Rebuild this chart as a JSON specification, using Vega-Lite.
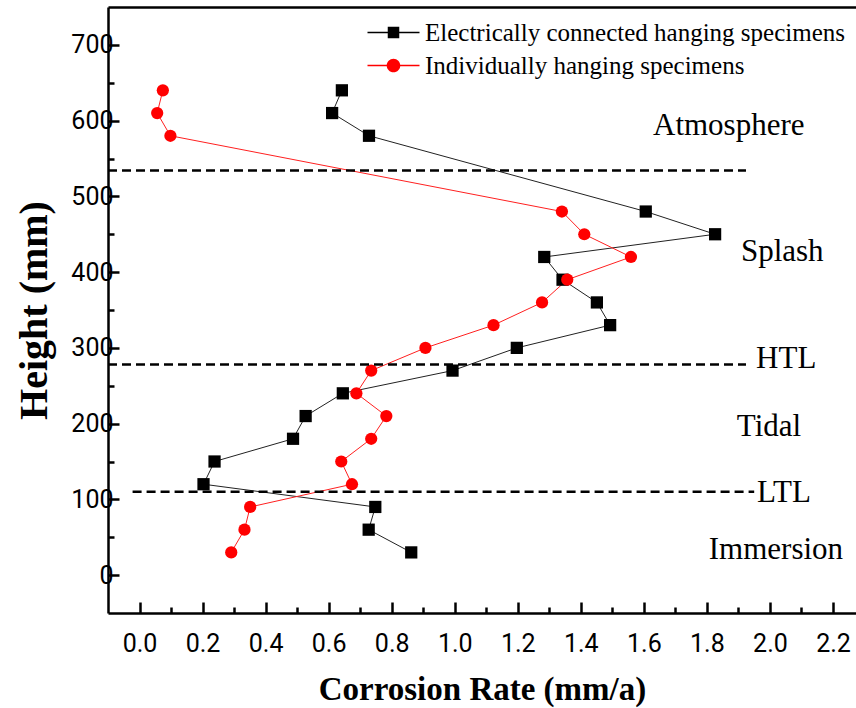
{
  "$schema": "https://vega.github.io/schema/vega-lite/v6.json",
  "width": 748,
  "height": 606,
  "autosize": {"type": "none"},
  "padding": {"left": 108, "top": 7, "right": 0, "bottom": 95},
  "background": "white",
  "config": {
    "view": {"stroke": null},
    "axis": {
      "domainColor": "black", "domainWidth": 2.5,
      "tickColor": "black", "tickWidth": 2.5,
      "labelFont": "Roboto", "labelFontSize": 25, "labelColor": "black",
      "titleFont": "Liberation Serif", "titleFontWeight": "bold", "titleColor": "black",
      "grid": false
    }
  },
  "datasets": {
    "series": [
      {"series": "Electrically connected hanging specimens", "rate": 0.642, "height": 640},
      {"series": "Electrically connected hanging specimens", "rate": 0.611, "height": 610},
      {"series": "Electrically connected hanging specimens", "rate": 0.728, "height": 580},
      {"series": "Electrically connected hanging specimens", "rate": 1.606, "height": 480},
      {"series": "Electrically connected hanging specimens", "rate": 1.826, "height": 450},
      {"series": "Electrically connected hanging specimens", "rate": 1.284, "height": 420},
      {"series": "Electrically connected hanging specimens", "rate": 1.342, "height": 390},
      {"series": "Electrically connected hanging specimens", "rate": 1.451, "height": 360},
      {"series": "Electrically connected hanging specimens", "rate": 1.493, "height": 330},
      {"series": "Electrically connected hanging specimens", "rate": 1.197, "height": 300},
      {"series": "Electrically connected hanging specimens", "rate": 0.993, "height": 270},
      {"series": "Electrically connected hanging specimens", "rate": 0.645, "height": 240},
      {"series": "Electrically connected hanging specimens", "rate": 0.527, "height": 210},
      {"series": "Electrically connected hanging specimens", "rate": 0.487, "height": 180},
      {"series": "Electrically connected hanging specimens", "rate": 0.238, "height": 150},
      {"series": "Electrically connected hanging specimens", "rate": 0.203, "height": 120},
      {"series": "Electrically connected hanging specimens", "rate": 0.748, "height": 90},
      {"series": "Electrically connected hanging specimens", "rate": 0.727, "height": 60},
      {"series": "Electrically connected hanging specimens", "rate": 0.862, "height": 30},
      {"series": "Individually hanging specimens", "rate": 0.074, "height": 640},
      {"series": "Individually hanging specimens", "rate": 0.056, "height": 610},
      {"series": "Individually hanging specimens", "rate": 0.098, "height": 580},
      {"series": "Individually hanging specimens", "rate": 1.340, "height": 480},
      {"series": "Individually hanging specimens", "rate": 1.411, "height": 450},
      {"series": "Individually hanging specimens", "rate": 1.559, "height": 420},
      {"series": "Individually hanging specimens", "rate": 1.357, "height": 390},
      {"series": "Individually hanging specimens", "rate": 1.277, "height": 360},
      {"series": "Individually hanging specimens", "rate": 1.123, "height": 330},
      {"series": "Individually hanging specimens", "rate": 0.907, "height": 300},
      {"series": "Individually hanging specimens", "rate": 0.735, "height": 270},
      {"series": "Individually hanging specimens", "rate": 0.688, "height": 240},
      {"series": "Individually hanging specimens", "rate": 0.783, "height": 210},
      {"series": "Individually hanging specimens", "rate": 0.735, "height": 180},
      {"series": "Individually hanging specimens", "rate": 0.640, "height": 150},
      {"series": "Individually hanging specimens", "rate": 0.674, "height": 120},
      {"series": "Individually hanging specimens", "rate": 0.351, "height": 90},
      {"series": "Individually hanging specimens", "rate": 0.333, "height": 60},
      {"series": "Individually hanging specimens", "rate": 0.291, "height": 30}
    ],
    "boundaries": [
      {"name": "Atmosphere/Splash", "height": 534, "start": -0.1, "end": 1.924},
      {"name": "HTL", "height": 278, "start": -0.1, "end": 1.924},
      {"name": "LTL", "height": 110, "start": -0.022, "end": 1.95}
    ],
    "zones": [
      {"label": "Atmosphere", "rate": 1.629, "height": 593},
      {"label": "Splash", "rate": 1.908, "height": 426},
      {"label": "HTL", "rate": 1.956, "height": 285},
      {"label": "Tidal", "rate": 1.895, "height": 195},
      {"label": "LTL", "rate": 1.959, "height": 108},
      {"label": "Immersion", "rate": 1.806, "height": 33}
    ]
  },
  "layer": [
    {
      "data": {"name": "series"},
      "transform": [{"filter": {"field": "series", "equal": "Electrically connected hanging specimens"}}],
      "mark": {"type": "line", "strokeWidth": 1, "color": "#222222"},
      "encoding": {
        "x": {
          "field": "rate", "type": "quantitative",
          "scale": {"domain": [-0.1, 2.273], "nice": false, "zero": false},
          "axis": {
            "orient": "bottom",
            "title": "Corrosion Rate (mm/a)",
            "titleFontSize": 33, "titlePadding": 17,
            "labelFontSize": 25, "labelFont": "Roboto",
            "values": [0, 0.1, 0.2, 0.3, 0.4, 0.5, 0.6, 0.7, 0.8, 0.9, 1.0, 1.1, 1.2, 1.3, 1.4, 1.5, 1.6, 1.7, 1.8, 1.9, 2.0, 2.1, 2.2],
            "labelExpr": "round(datum.value*10) % 2 == 0 ? format(datum.value, '.1f') : ''",
            "tickSize": {"condition": {"test": "round(datum.value*10) % 2 == 0", "value": -11}, "value": -6},
            "labelPadding": 29
          }
        },
        "y": {
          "field": "height", "type": "quantitative",
          "scale": {"domain": [-50, 750], "nice": false, "zero": false},
          "axis": {
            "title": "Height (mm)",
            "titleFontSize": 40, "titlePadding": 16,
            "labelFontSize": 25, "labelFont": "Roboto",
            "values": [0, 50, 100, 150, 200, 250, 300, 350, 400, 450, 500, 550, 600, 650, 700],
            "labelExpr": "datum.value % 100 == 0 ? datum.label : ''",
            "tickSize": {"condition": {"test": "datum.value % 100 == 0", "value": -11}, "value": -6},
            "labelPadding": 6
          }
        },
        "order": {"field": "height", "type": "quantitative"}
      }
    },
    {
      "data": {"name": "series"},
      "transform": [{"filter": {"field": "series", "equal": "Individually hanging specimens"}}],
      "mark": {"type": "line", "strokeWidth": 1, "color": "#ff2020"},
      "encoding": {
        "x": {"field": "rate", "type": "quantitative", "axis": null},
        "y": {"field": "height", "type": "quantitative"},
        "order": {"field": "height", "type": "quantitative"}
      }
    },
    {
      "data": {"name": "series"},
      "transform": [{"filter": {"field": "series", "equal": "Electrically connected hanging specimens"}}],
      "mark": {"type": "point", "shape": "square", "filled": true, "opacity": 1, "size": 150, "strokeWidth": 0, "color": "#000000"},
      "encoding": {
        "x": {"field": "rate", "type": "quantitative", "axis": null},
        "y": {"field": "height", "type": "quantitative"}
      }
    },
    {
      "data": {"name": "series"},
      "transform": [{"filter": {"field": "series", "equal": "Individually hanging specimens"}}],
      "mark": {"type": "point", "shape": "circle", "filled": true, "opacity": 1, "size": 150, "strokeWidth": 0, "color": "#ff0000"},
      "encoding": {
        "x": {"field": "rate", "type": "quantitative", "axis": null},
        "y": {"field": "height", "type": "quantitative"}
      }
    },
    {
      "data": {"name": "series"},
      "mark": {"type": "point", "filled": true, "opacity": 0, "size": 256, "strokeWidth": 0},
      "encoding": {
        "x": {"field": "rate", "type": "quantitative", "axis": null},
        "y": {"field": "height", "type": "quantitative"},
        "color": {
          "field": "series", "type": "nominal",
          "scale": {"domain": ["Electrically connected hanging specimens", "Individually hanging specimens"], "range": ["#000000", "#ff0000"]},
          "legend": {
            "title": null, "orient": "none", "legendX": 273, "legendY": 13, "padding": 0,
            "labelFont": "Liberation Serif", "labelFontSize": 25, "labelColor": "black", "labelLimit": 700,
            "labelOffset": 19, "rowPadding": 7, "symbolSize": 256, "symbolOpacity": 1, "symbolStrokeWidth": 0
          }
        },
        "shape": {
          "field": "series", "type": "nominal",
          "scale": {
            "domain": ["Electrically connected hanging specimens", "Individually hanging specimens"],
            "range": [
              "M-3.25,-0.09H3.25V0.09H-3.25Z M-0.72,-0.72H0.72V0.72H-0.72Z",
              "M-3.25,-0.09H3.25V0.09H-3.25Z M-0.85,0A0.85,0.85 0 1,1 0.85,0A0.85,0.85 0 1,1 -0.85,0Z"
            ]
          },
          "legend": {
            "title": null, "orient": "none", "legendX": 273, "legendY": 13, "padding": 0,
            "labelFont": "Liberation Serif", "labelFontSize": 25, "labelColor": "black", "labelLimit": 700,
            "labelOffset": 19, "rowPadding": 7, "symbolSize": 256, "symbolOpacity": 1, "symbolStrokeWidth": 0
          }
        }
      }
    },
    {
      "data": {"name": "boundaries"},
      "mark": {"type": "rule", "strokeDash": [9, 5], "strokeWidth": 2.5, "color": "black"},
      "encoding": {
        "x": {"field": "start", "type": "quantitative", "axis": {"orient": "top", "title": null, "labels": false, "ticks": false, "domain": true, "values": []}},
        "x2": {"field": "end"},
        "y": {"field": "height", "type": "quantitative"}
      }
    },
    {
      "data": {"name": "zones"},
      "mark": {"type": "text", "font": "Liberation Serif", "fontSize": 31, "align": "left", "baseline": "middle", "color": "black"},
      "encoding": {
        "x": {"field": "rate", "type": "quantitative", "axis": null},
        "y": {"field": "height", "type": "quantitative"},
        "text": {"field": "label"}
      }
    }
  ],
  "resolve": {"axis": {"x": "independent"}}
}
